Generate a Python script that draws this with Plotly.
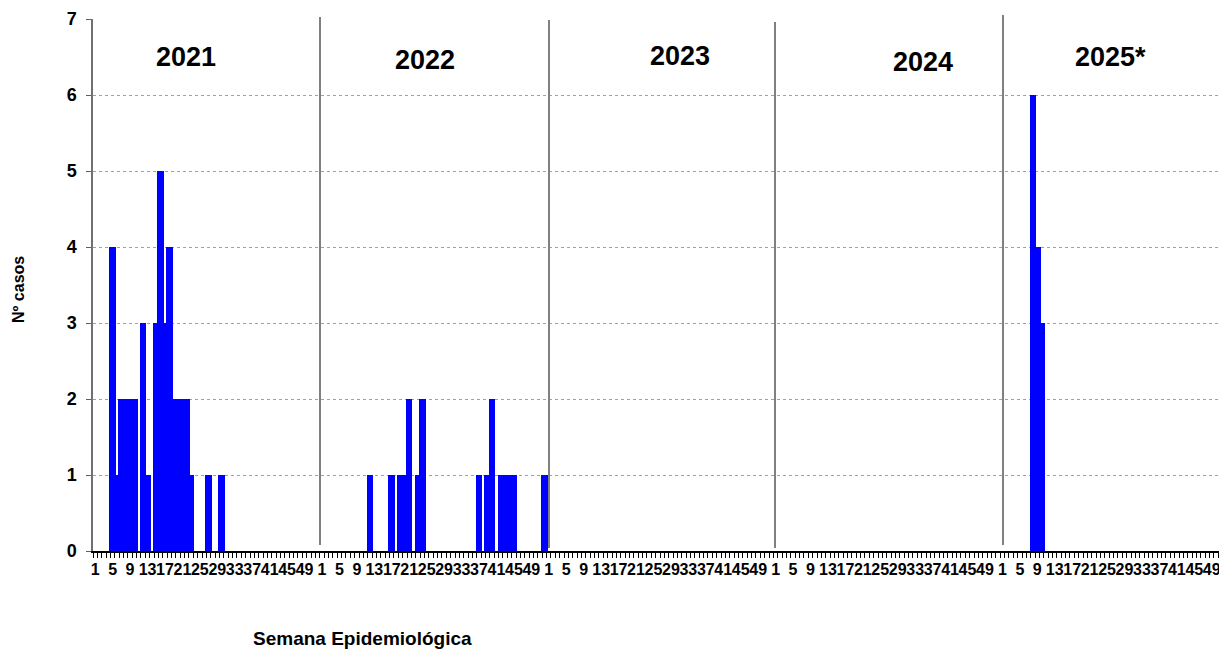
import plotly.graph_objects as go

# ---------------- data ----------------
years = ["2021", "2022", "2023", "2024", "2025*"]
weeks_per_year = 52

weeks_2021 = [5, 6, 7, 8, 9, 10, 12, 13, 15, 16, 17, 18, 19, 20, 21, 22, 23, 27, 30]
cases_2021 = [4, 1, 2, 2, 2, 2, 3, 1, 3, 5, 3, 4, 2, 2, 2, 2, 1, 1, 1]

weeks_2022 = [12, 17, 19, 20, 21, 23, 24, 37, 39, 40, 42, 43, 44, 45, 52]
cases_2022 = [1, 1, 1, 1, 2, 1, 2, 1, 1, 2, 1, 1, 1, 1, 1]

weeks_2023 = []
cases_2023 = []

weeks_2024 = []
cases_2024 = []

weeks_2025 = [8, 9, 10]
cases_2025 = [6, 4, 3]

label_weeks = [1, 5, 9, 13, 17, 21, 25, 29, 33, 37, 41, 45, 49]

# ---------------- build series ----------------
per_year = [(weeks_2021, cases_2021), (weeks_2022, cases_2022), (weeks_2023, cases_2023),
            (weeks_2024, cases_2024), (weeks_2025, cases_2025)]
n_total = weeks_per_year * len(years)
xs = list(range(1, n_total + 1))
ys = [0] * n_total
for yi, (wk, cs) in enumerate(per_year):
    for w, c in zip(wk, cs):
        ys[yi * weeks_per_year + w - 1] = c

tickvals, ticktext = [], []
for yi in range(len(years)):
    for w in label_weeks:
        tickvals.append(yi * weeks_per_year + w)
        ticktext.append(str(w))

FONT = "Arial, Liberation Sans, sans-serif"

fig = go.Figure()
fig.add_trace(go.Bar(x=xs, y=ys, width=1.5, marker=dict(color="#0000FF", line=dict(width=0)),
                     hoverinfo="x+y"))

# page body has an 8px margin: figure pixel = screen pixel - 8
OFF = 8
W, H = 1227 - OFF, 652 - OFF
L, R, T, B = 93 - OFF, 0, 19 - OFF, H - (551 - OFF)
pw, ph = W - L - R, H - T - B

def px(xs_screen):
    return (xs_screen - OFF - L) / pw

def py(ys_screen):
    return (H - B - (ys_screen - OFF)) / ph

# year separator lines (screen pixel positions)
seps = [(320, 17, 545), (549, 20, 548), (775, 22, 548), (1003, 15, 545)]
shapes = []
for xp, y0p, y1p in seps:
    shapes.append(dict(type="line", xref="paper", yref="paper", x0=px(xp), x1=px(xp),
                       y0=py(y1p), y1=py(y0p), line=dict(color="#808080", width=2)))

annotations = []
year_pos = [(186, 57), (425, 60), (680, 56), (923, 62), (1110, 57)]
for txt, (xp, yp) in zip(years, year_pos):
    annotations.append(dict(text="<b>%s</b>" % txt, x=px(xp), y=py(yp), xref="paper", yref="paper",
                            showarrow=False, font=dict(size=27, color="black", family=FONT),
                            xanchor="center", yanchor="middle"))
annotations.append(dict(text="<b>Semana Epidemiológica</b>", x=px(362), y=py(639), xref="paper",
                        yref="paper", showarrow=False, font=dict(size=19, color="black", family=FONT),
                        xanchor="center", yanchor="middle"))
annotations.append(dict(text="<b>Nº casos</b>", x=px(18), y=py(290), xref="paper", yref="paper",
                        showarrow=False, textangle=-90, font=dict(size=16, color="black", family=FONT),
                        xanchor="center", yanchor="middle"))

fig.update_layout(
    width=W, height=H,
    margin=dict(l=L, r=R, t=T, b=B, pad=0),
    paper_bgcolor="white", plot_bgcolor="white",
    showlegend=False, bargap=0,
    shapes=shapes, annotations=annotations,
    font=dict(family=FONT, color="black"),
    xaxis=dict(range=[0.5, n_total + 0.5], tickmode="array", tickvals=tickvals,
               ticktext=["<b>%s</b>" % t for t in ticktext], tickangle=0,
               tickfont=dict(size=16, color="black", family=FONT),
               ticks="", ticklabelstandoff=3, showgrid=False, zeroline=False,
               showline=True, linecolor="black", linewidth=1.5,
               minor=dict(ticks="outside", tickmode="linear", tick0=0.5, dtick=1,
                          ticklen=5, tickcolor="black", tickwidth=1, showgrid=False),
               fixedrange=True),
    yaxis=dict(range=[0, 7], tickmode="linear", tick0=0, dtick=1,
               tickfont=dict(size=18, color="black", family=FONT),
               tickprefix="<b>", ticksuffix="</b>", ticklabelstandoff=6,
               ticks="outside", ticklen=5, tickcolor="#606060", tickwidth=1,
               showgrid=True, gridcolor="#A0A0A0", griddash="dot", gridwidth=1,
               zeroline=False, showline=True, linecolor="#707070", linewidth=1.5,
               fixedrange=True),
)

fig.write_html("out.html")
